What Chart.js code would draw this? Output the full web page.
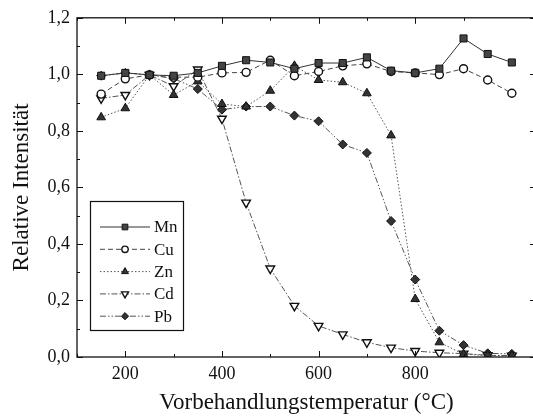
<!DOCTYPE html>
<html>
<head>
<meta charset="utf-8">
<script src="https://cdn.jsdelivr.net/npm/chart.js@4.4.1/dist/chart.umd.min.js"></script>
<style>
  html, body { margin: 0; padding: 0; background: #fff; }
  #wrap { width: 533px; height: 417px; overflow: hidden; }
  canvas { display: block; }
</style>
</head>
<body>
<div id="wrap"><canvas id="intensityChart" width="545" height="417"></canvas></div>
<script>
// Pretreatment temperatures (°C)
const temperatures = [150, 200, 250, 300, 350, 400, 450, 500, 550, 600, 650, 700, 750, 800, 850, 900, 950, 1000];

// Relative intensity per element
const mnValues = [0.995, 1.005, 0.998, 0.995, 1.005, 1.030, 1.050, 1.042, 1.020, 1.040, 1.040, 1.060, 1.013, 1.005, 1.020, 1.127, 1.072, 1.042];
const cuValues = [0.930, 0.984, 0.998, 0.990, 0.990, 1.005, 1.007, 1.050, 0.995, 1.010, 1.030, 1.037, 1.010, 1.005, 0.999, 1.020, 0.980, 0.933];
const znValues = [0.848, 0.880, 0.998, 0.927, 0.975, 0.895, 0.886, 0.942, 1.030, 0.980, 0.972, 0.933, 0.784, 0.205, 0.052, 0.010, 0.005, 0.005];
const cdValues = [0.915, 0.927, 0.998, 0.958, 1.017, 0.843, 0.546, 0.313, 0.181, 0.110, 0.080, 0.052, 0.033, 0.021, 0.015, 0.012, 0.006, 0.005];
const pbValues = [0.995, 1.005, 0.998, 0.985, 0.948, 0.875, 0.886, 0.886, 0.854, 0.834, 0.752, 0.722, 0.481, 0.274, 0.093, 0.042, 0.013, 0.011];

// Tick labels
const xTickLabels = [200, 400, 600, 800, 1000];
const yTickLabels = ['0,0', '0,2', '0,4', '0,6', '0,8', '1,0', '1,2'];

const FONT = 'Liberation Serif, Times New Roman, serif';

function toPoints(values) {
    return temperatures.map((t, i) => ({ x: t, y: values[i] }));
}

function series(label, values, style) {
    return Object.assign({
        label: label,
        data: toPoints(values),
        borderWidth: 1,
        tension: 0,
        pointBorderWidth: 1,
        pointHoverRadius: 0
    }, style);
}

const datasets = [
    series('Mn', mnValues, {
        borderColor: '#333', pointStyle: 'rect', pointRadius: 5,
        pointBackgroundColor: '#444', pointBorderColor: '#111'
    }),
    series('Cu', cuValues, {
        borderColor: '#444', borderDash: [5, 3], pointStyle: 'circle', pointRadius: 4,
        pointBackgroundColor: '#fff', pointBorderColor: '#111', pointBorderWidth: 1.4
    }),
    series('Zn', znValues, {
        borderColor: '#555', borderDash: [1.5, 2], pointStyle: 'triangle', pointRadius: 5,
        pointBackgroundColor: '#333', pointBorderColor: '#111'
    }),
    series('Cd', cdValues, {
        borderColor: '#555', borderDash: [6, 2, 1.5, 2], pointStyle: 'triangle', pointRotation: 180,
        pointRadius: 5, pointBackgroundColor: '#fff', pointBorderColor: '#111', pointBorderWidth: 1.4
    }),
    series('Pb', pbValues, {
        borderColor: '#555', borderDash: [6, 2, 1.5, 2, 1.5, 2], pointStyle: 'rectRot', pointRadius: 4.5,
        pointBackgroundColor: '#333', pointBorderColor: '#111'
    })
];

// Box frame plus inward ticks on all four sides
const frameTicks = {
    id: 'frameTicks',
    afterDatasetsDraw(chart) {
        const { ctx, chartArea: a, scales: { x, y } } = chart;
        ctx.save();
        ctx.strokeStyle = '#111';
        ctx.lineWidth = 1.3;
        ctx.strokeRect(a.left, a.top, a.right - a.left, a.bottom - a.top);
        ctx.lineWidth = 1;
        ctx.beginPath();
        x.ticks.forEach(t => {
            if (t.value % 100 !== 0) return;
            const px = Math.round(x.getPixelForValue(t.value)) + 0.5;
            const len = xTickLabels.includes(t.value) ? 6 : 3;
            ctx.moveTo(px, a.bottom); ctx.lineTo(px, a.bottom - len);
            ctx.moveTo(px, a.top); ctx.lineTo(px, a.top + len);
        });
        y.ticks.forEach(t => {
            const py = Math.round(y.getPixelForValue(t.value)) + 0.5;
            const len = Math.round(t.value * 10) % 2 === 0 ? 6 : 3;
            ctx.moveTo(a.left, py); ctx.lineTo(a.left + len, py);
            ctx.moveTo(a.right, py); ctx.lineTo(a.right - len, py);
        });
        ctx.stroke();
        ctx.restore();
    }
};

// Boxed legend inside the plot area
const boxLegend = {
    id: 'boxLegend',
    afterDraw(chart) {
        const ctx = chart.ctx;
        const box = { left: 90, top: 201, width: 93, height: 129 };
        ctx.save();
        ctx.fillStyle = '#fff';
        ctx.fillRect(box.left, box.top, box.width, box.height);
        ctx.strokeStyle = '#111';
        ctx.lineWidth = 1.2;
        ctx.strokeRect(box.left + 0.5, box.top + 0.5, box.width, box.height);
        chart.data.datasets.forEach((ds, i) => {
            const cy = 227 + i * 22.3;
            ctx.strokeStyle = ds.borderColor;
            ctx.lineWidth = 1;
            ctx.setLineDash(ds.borderDash || []);
            ctx.beginPath();
            ctx.moveTo(100, cy);
            ctx.lineTo(150, cy);
            ctx.stroke();
            ctx.setLineDash([]);
            ctx.fillStyle = ds.pointBackgroundColor;
            ctx.strokeStyle = ds.pointBorderColor;
            ctx.lineWidth = ds.pointBorderWidth;
            Chart.helpers.drawPoint(ctx, {
                pointStyle: ds.pointStyle,
                rotation: ds.pointRotation || 0,
                radius: ds.pointRadius * 0.8,
                borderWidth: ds.pointBorderWidth
            }, 125, cy);
            ctx.fillStyle = '#111';
            ctx.font = '17px ' + FONT;
            ctx.textBaseline = 'middle';
            ctx.textAlign = 'left';
            ctx.fillText(ds.label, 154, cy + 1);
        });
        ctx.restore();
    }
};

new Chart(document.getElementById('intensityChart'), {
    type: 'line',
    data: { datasets: datasets },
    options: {
        responsive: false,
        animation: false,
        devicePixelRatio: 1,
        layout: { padding: { top: 17, right: 9, left: 0, bottom: 0 } },
        plugins: {
            legend: { display: false },
            tooltip: { enabled: false }
        },
        scales: {
            x: {
                type: 'linear',
                min: 100,
                max: 1050,
                grid: { display: false, drawTicks: false },
                border: { display: false },
                ticks: {
                    stepSize: 100,
                    autoSkip: false,
                    maxRotation: 0,
                    padding: 6,
                    color: '#111',
                    font: { family: FONT, size: 18 },
                    callback: v => xTickLabels.includes(v) ? String(v) : ''
                },
                title: {
                    display: true,
                    text: 'Vorbehandlungstemperatur (°C)',
                    color: '#111',
                    font: { family: FONT, size: 23 },
                    padding: { top: 0, bottom: 0 }
                },
                afterFit: scale => { scale.height = 60; }
            },
            y: {
                min: 0,
                max: 1.2,
                grid: { display: false, drawTicks: false },
                border: { display: false },
                ticks: {
                    stepSize: 0.1,
                    autoSkip: false,
                    padding: 7,
                    color: '#111',
                    font: { family: FONT, size: 18 },
                    callback: v => {
                        const i = Math.round(v * 10);
                        return i % 2 === 0 ? yTickLabels[i / 2] : '';
                    }
                },
                title: {
                    display: true,
                    text: 'Relative Intensität',
                    color: '#111',
                    font: { family: FONT, size: 23 },
                    padding: { top: 8, bottom: 0 }
                },
                afterFit: scale => { scale.width = 77; }
            }
        }
    },
    plugins: [frameTicks, boxLegend]
});
</script>
</body>
</html>
